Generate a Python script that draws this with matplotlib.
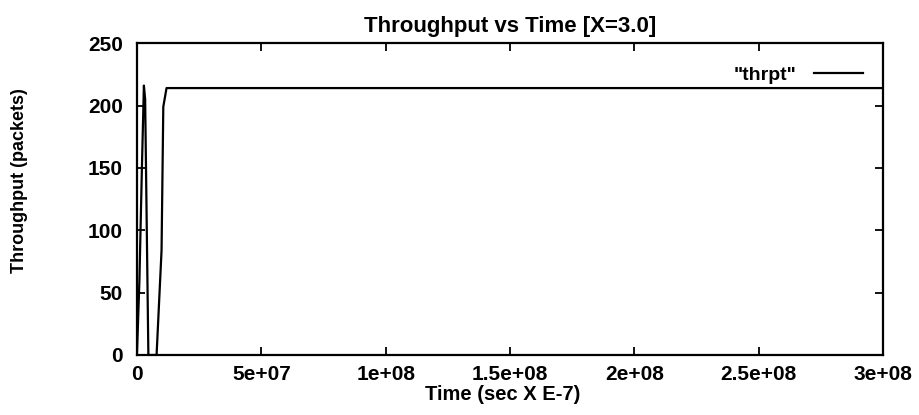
import matplotlib
matplotlib.use("Agg")
from matplotlib import pyplot as plt
from matplotlib.ticker import FixedLocator, FixedFormatter

# data
time = [0, 1.0e6, 2.0e6, 2.8e6, 3.3e6, 4.6e6, 7.9e6, 9.9e6, 10.6e6, 1.19e7, 5e7, 1e8, 2e8, 3e8]
thrpt = [0, 60, 150, 216, 205, 0, 0, 84, 199, 214, 214, 214, 214, 214]

xticks = [0, 5e7, 1e8, 1.5e8, 2e8, 2.5e8, 3e8]
xlabels = ["0", "5e+07", "1e+08", "1.5e+08", "2e+08", "2.5e+08", "3e+08"]
yticks = [0, 50, 100, 150, 200, 250]
ylabels = ["0", "50", "100", "150", "200", "250"]

plt.rcParams['font.family'] = ['Liberation Sans', 'DejaVu Sans']
plt.rcParams['font.weight'] = 'bold'
plt.rcParams['axes.titleweight'] = 'bold'
plt.rcParams['axes.labelweight'] = 'bold'

fig = plt.figure(figsize=(9.19, 4.15), dpi=100)
ax = fig.add_axes([0.149, 0.1446, 0.812, 0.7514])

ax.plot(time, thrpt, color="black", lw=1.6, label='"thrpt"')

ax.set_xlim(0, 3e8)
ax.set_ylim(0, 250)
ax.xaxis.set_major_locator(FixedLocator(xticks))
ax.xaxis.set_major_formatter(FixedFormatter(xlabels))
ax.yaxis.set_major_locator(FixedLocator(yticks))
ax.yaxis.set_major_formatter(FixedFormatter(ylabels))
ax.tick_params(direction="in", top=True, right=True, length=6, width=1.3,
               labelsize=15, pad=7)
ax.tick_params(axis="y", pad=10)
for s in ax.spines.values():
    s.set_linewidth(1.6)

ax.set_title("Throughput vs Time [X=3.0]", fontsize=16, pad=8)
ax.set_xlabel("Time (sec X E-7)", fontsize=14.5)
ax.xaxis.set_label_coords(0.49, -0.095)
ax.set_ylabel("Throughput (packets)", fontsize=13)
ax.yaxis.set_label_coords(-0.146, 0.56)

leg = ax.legend(loc="upper right", frameon=False, markerfirst=False,
                fontsize=14, handlelength=2.5, borderaxespad=0,
                handletextpad=0.9, bbox_to_anchor=(0.983, 0.95))

plt.savefig("out.png")
